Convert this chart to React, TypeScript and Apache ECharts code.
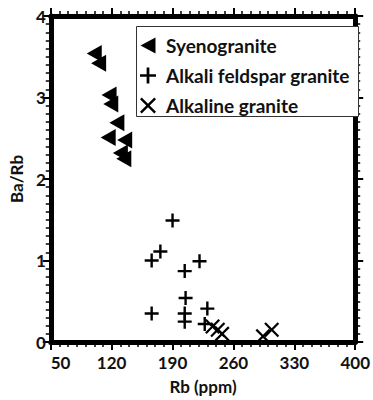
import React, { useEffect, useRef } from "react";
import * as echarts from "echarts";

// Rb (ppm) vs Ba/Rb for three granite types
const syenogranite: [number, number][] = [
  [100, 3.54], [105, 3.42], [117, 3.03], [119, 2.92], [126, 2.69],
  [116, 2.51], [135, 2.48], [130, 2.32], [134, 2.25],
];
const alkaliFeldsparGranite: [number, number][] = [
  [190, 1.49], [176, 1.11], [166, 1.0], [221, 0.99], [204, 0.87],
  [205, 0.54], [166, 0.35], [204, 0.35], [204, 0.25], [230, 0.41], [227, 0.22],
];
const alkalineGranite: [number, number][] = [
  [236, 0.19], [242, 0.15], [247, 0.1], [294, 0.07], [304, 0.15],
];
const seriesNames = ["Syenogranite", "Alkali feldspar granite", "Alkaline granite"];

const FONT = "Lato";
const INK = "#000";

const TRIANGLE = "path://M0,8 L15,0 L15,16 Z";
const PLUS = "path://M5.8,0 H8.2 V5.8 H14 V8.2 H8.2 V14 H5.8 V8.2 H0 V5.8 H5.8 Z";
// X built as a polygon in a 12x12 box, arm half-width 0.9
const a = 1.27;
const S = 12;
const CROSS =
  `path://M0,${a} L${a},0 L${S / 2},${S / 2 - a} L${S - a},0 L${S},${a} ` +
  `L${S / 2 + a},${S / 2} L${S},${S - a} L${S - a},${S} L${S / 2},${S / 2 + a} ` +
  `L${a},${S} L0,${S - a} L${S / 2 - a},${S / 2} Z`;

const labelStyle = () => ({ fontFamily: FONT, fontWeight: "bold" as const, fontSize: 17, color: "#111" });

// Frame styling: heavy axis line with major and minor ticks
const frame = (minorSplit: number) => ({
  axisLine: { show: true, onZero: false, lineStyle: { color: INK, width: 5, type: "solid" } },
  axisTick: { show: true, inside: false, length: 8, lineStyle: { color: INK, width: 2, type: "solid" } },
  minorTick: { show: true, splitNumber: minorSplit, length: 5, lineStyle: { color: INK, width: 1.5, type: "solid" } },
  splitLine: { show: false },
  minorSplitLine: { show: false },
});

export default function App() {
  const ref = useRef<HTMLDivElement>(null);

  useEffect(() => {
    if (!ref.current) return;
    const chart = echarts.init(ref.current, null, { renderer: "svg" });

    chart.setOption({
      animation: false,
      backgroundColor: "#fff",
      grid: { left: 47, right: 13, top: 16, bottom: 54 },
      xAxis: [
        {
          type: "value",
          min: 50,
          max: 400,
          interval: 70,
          position: "bottom",
          name: "Rb (ppm)",
          nameLocation: "middle",
          nameGap: 36,
          nameTextStyle: labelStyle(),
          ...frame(7),
          axisLabel: { ...labelStyle(), show: true, margin: 12, alignMinLabel: "left" },
        },
        {
          type: "value",
          min: 50,
          max: 400,
          interval: 70,
          position: "top",
          ...frame(7),
          axisLabel: { show: false },
        },
      ],
      yAxis: [
        {
          type: "value",
          min: 0,
          max: 4,
          interval: 1,
          position: "left",
          name: "Ba/Rb",
          nameLocation: "middle",
          nameGap: 21,
          nameTextStyle: labelStyle(),
          ...frame(10),
          axisLabel: { ...labelStyle(), show: true, margin: 5 },
        },
        {
          type: "value",
          min: 0,
          max: 4,
          interval: 1,
          position: "right",
          ...frame(10),
          axisLabel: { show: false },
        },
      ],
      graphic: [
        {
          type: "rect",
          left: 136,
          top: 26,
          shape: { width: 222, height: 90 },
          style: { fill: "#fff", stroke: "#333", lineWidth: 1 },
          z: 5,
        },
      ],
      legend: {
        left: 136,
        top: 26,
        orient: "vertical",
        padding: [10, 6, 10, 4],
        itemWidth: 26,
        itemHeight: 16,
        itemGap: 11,
        z: 10,
        textStyle: { ...labelStyle(), fontSize: 19 },
        data: seriesNames,
      },
      series: [
        {
          name: seriesNames[0],
          type: "scatter",
          data: syenogranite,
          symbol: TRIANGLE,
          symbolSize: [16, 17],
          symbolKeepAspect: true,
          itemStyle: { color: INK, opacity: 1 },
        },
        {
          name: seriesNames[1],
          type: "scatter",
          data: alkaliFeldsparGranite,
          symbol: PLUS,
          symbolSize: 14,
          symbolKeepAspect: true,
          itemStyle: { color: INK, opacity: 1 },
        },
        {
          name: seriesNames[2],
          type: "scatter",
          data: alkalineGranite,
          symbol: CROSS,
          symbolSize: 15,
          symbolKeepAspect: true,
          itemStyle: { color: INK, opacity: 1 },
        },
      ],
    });

    return () => chart.dispose();
  }, []);

  return (
    <div
      ref={ref}
      style={{ position: "absolute", left: 0, top: 0, width: 373, height: 400 }}
    />
  );
}
